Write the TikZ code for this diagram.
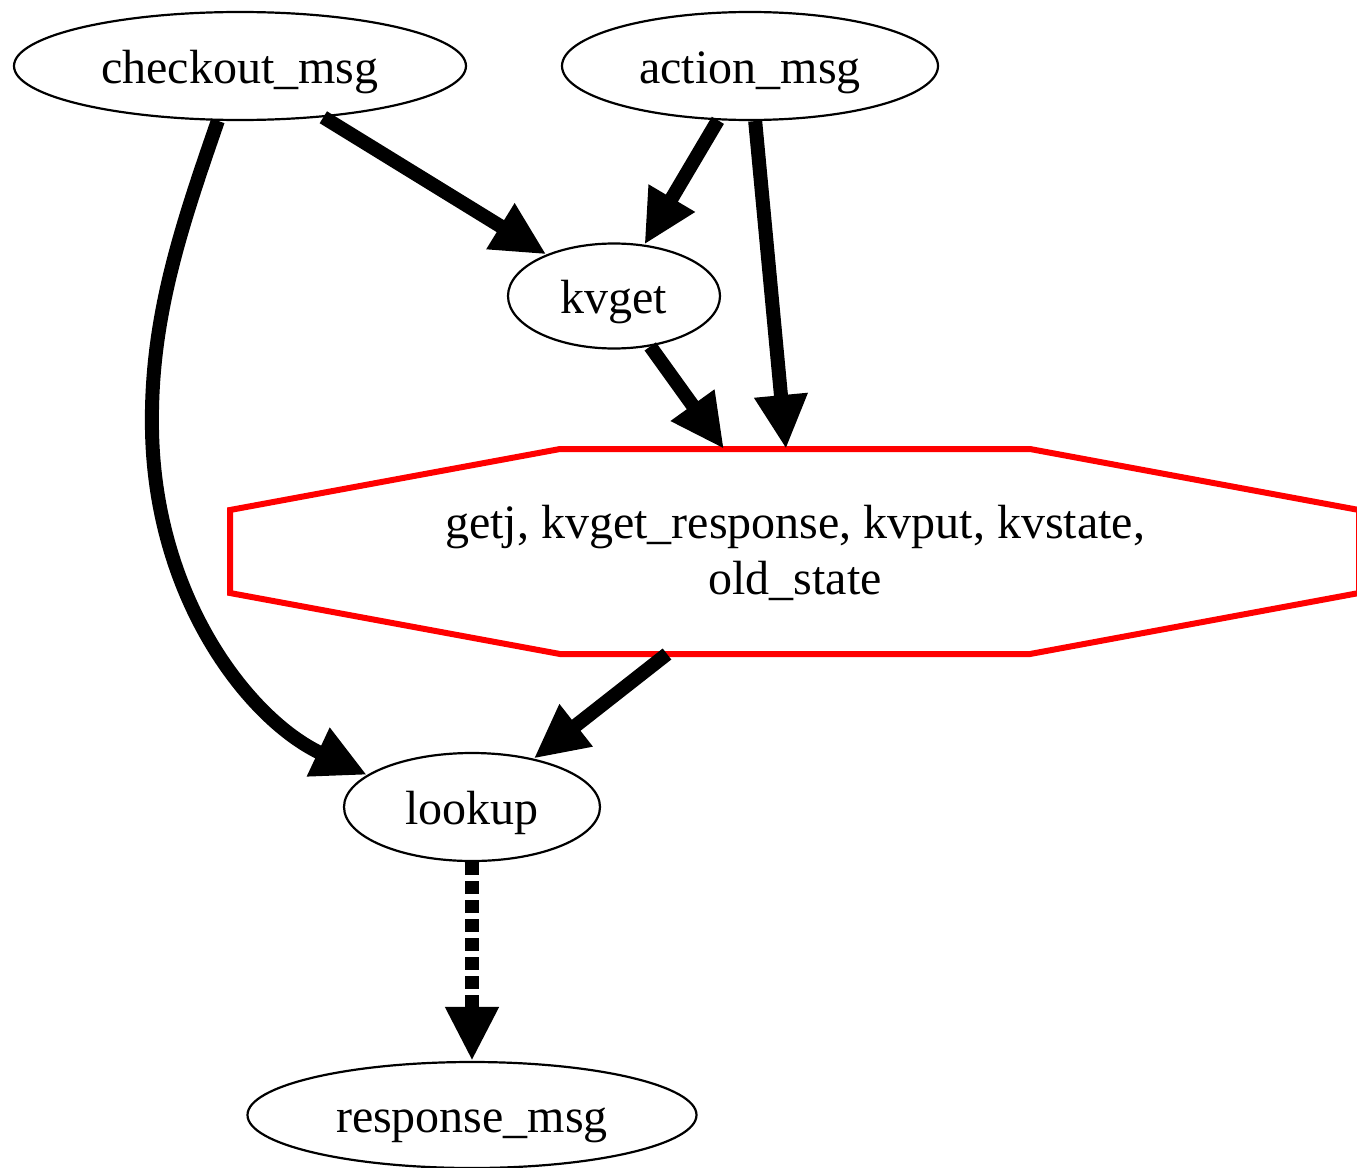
\documentclass[tikz,border=0pt]{standalone}
\usepackage{fontspec}
\setmainfont{Liberation Serif}
\usetikzlibrary{arrows.meta,shapes.geometric}
\begin{document}
\begin{tikzpicture}[x=1pt,y=-1pt,
  msg/.style={draw, ellipse, line width=2.2pt, inner sep=0pt,
    text height=40pt, text depth=6pt,
    font=\fontsize{48}{56}\selectfont},
  flow/.style={line width=14pt, -{Triangle[length=54pt,width=50pt]}},
  lazy/.style={flow, dash pattern=on 13pt off 6pt},
  group/.style={draw=red, line width=6pt, line join=miter},
]
\useasboundingbox (0,0) rectangle (1357,1167);

% message and step nodes
\node[msg, minimum width=452pt, minimum height=108pt] (checkout) at (240,66) {checkout\_msg};
\node[msg, minimum width=376pt, minimum height=108pt] (action) at (750,66) {action\_msg};
\node[msg, minimum width=212pt, minimum height=105pt] (kvget) at (614,296) {kvget};
\node[msg, minimum width=256pt, minimum height=108pt] (lookup) at (472,807) {lookup};
\node[msg, minimum width=449pt, minimum height=106pt] (response) at (472,1115) {response\_msg};

% octagonal group of merged steps
\coordinate (g1) at (560,449);
\coordinate (g2) at (1030,449);
\coordinate (g3) at (1359,510);
\coordinate (g4) at (1359,593);
\coordinate (g5) at (1030,654);
\coordinate (g6) at (560,654);
\coordinate (g7) at (230,593);
\coordinate (g8) at (230,510);
\draw[group] (g1) -- (g2) -- (g3) -- (g4) -- (g5) -- (g6) -- (g7) -- (g8) -- cycle;
\node[align=center, inner sep=0pt, font=\fontsize{48}{56}\selectfont] (grouplabel) at (795,553)
  {getj, kvget\_response, kvput, kvstate,\\old\_state};

% ports on the group outline
\coordinate (inKv) at (724,449);
\coordinate (inAct) at (786,449);
\coordinate (outGrp) at (667,654);

% dependencies
\draw[flow] (checkout) -- (kvget);
\draw[flow] (action) -- (kvget);
\draw[flow] (action) -- (inAct);
\draw[flow] (kvget) -- (inKv);
\draw[flow] (outGrp) -- (lookup);
\draw[flow] (checkout.248) .. controls (180,230) and (150,320) .. (152,430)
  .. controls (155,600) and (250,720) .. (lookup.163);
\draw[lazy] (lookup) -- (response);
\end{tikzpicture}
\end{document}
